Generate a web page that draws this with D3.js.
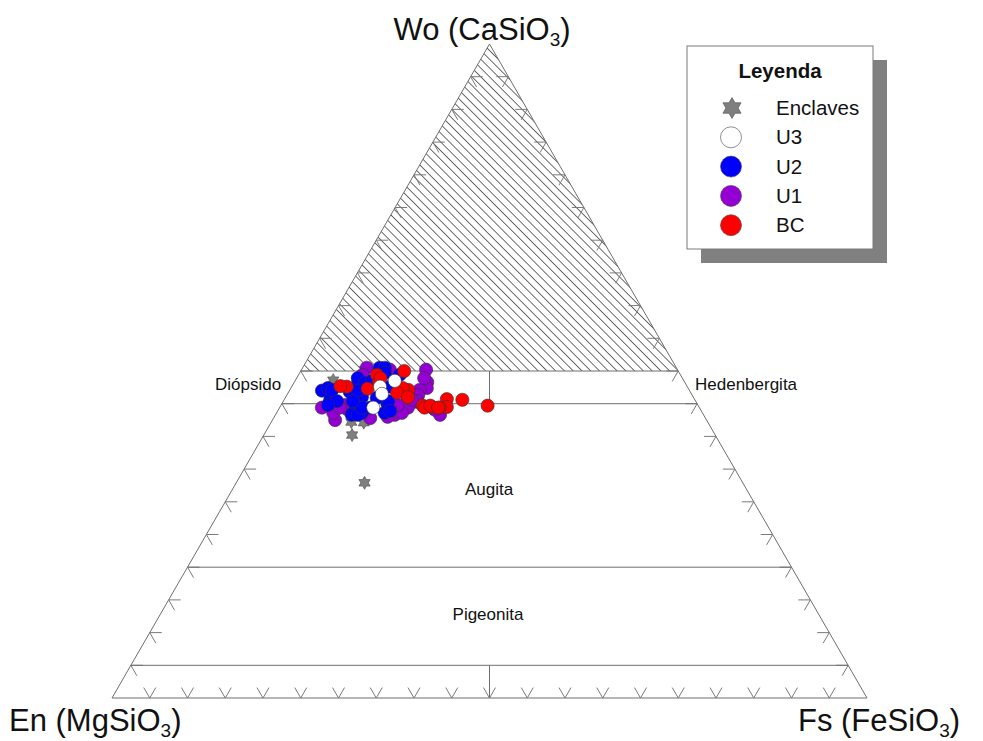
<!DOCTYPE html>
<html><head><meta charset="utf-8">
<script src="https://cdn.jsdelivr.net/npm/d3@7"></script>
<style>body{margin:0;background:#fff} svg{display:block;font-family:Arial,"Liberation Sans",sans-serif}</style>
</head><body><svg id="chart" width="983" height="741"></svg>
<script>
// ---- Data (Wo, En, Fs in mol %) ----
const enclavesWo = [50.2, 48.6, 42.2, 42.1, 40.2, 32.9];
const enclavesEn = [41.4, 46.4, 47.2, 45.6, 48.1, 50.1];
const enclavesFs = [8.4, 5.0, 10.6, 12.3, 11.7, 17.0];

const u1Wo = [50.2, 48.3, 47.4, 47.1, 45.9, 44.4, 43.3, 43.0, 42.5, 43.6, 43.3, 45.3, 50.5, 50.2, 49.4, 46.3, 45.4, 44.4, 43.6, 44.8, 45.6, 44.1, 44.8, 44.1, 44.4, 44.4, 42.8, 48.9];
const u1En = [33.3, 34.1, 34.6, 35.7, 37.6, 39.3, 40.9, 42.0, 49.2, 48.9, 34.9, 37.2, 41.0, 38.1, 42.1, 36.3, 36.9, 38.6, 39.8, 39.7, 37.5, 35.2, 46.7, 46.7, 47.6, 50.0, 44.4, 34.2];
const u1Fs = [16.5, 17.6, 18.0, 17.2, 16.5, 16.3, 15.8, 15.0, 8.3, 7.5, 21.8, 17.5, 8.5, 11.7, 8.5, 17.4, 17.7, 17.0, 16.6, 15.5, 16.9, 20.7, 8.5, 9.2, 8.0, 5.6, 12.8, 16.9];

const u2Wo = [50.5, 50.5, 49.7, 47.0, 47.4, 45.6, 47.1, 45.4, 44.8, 43.6, 43.6, 44.4, 43.6, 45.1, 48.2, 46.0, 46.8, 49.4, 47.6, 48.9, 48.2, 48.5, 47.0, 43.3, 43.3, 44.4, 45.4, 45.4, 43.9, 45.9];
const u2En = [39.3, 38.6, 39.0, 48.7, 47.7, 48.3, 47.3, 47.5, 49.0, 46.3, 45.1, 43.6, 42.1, 41.0, 43.3, 43.9, 45.1, 37.2, 39.4, 43.0, 42.4, 41.3, 43.9, 46.6, 45.8, 44.7, 45.4, 40.7, 41.2, 42.0];
const u2Fs = [10.2, 10.9, 11.3, 4.3, 4.9, 6.1, 5.6, 7.1, 6.2, 10.1, 11.3, 12.0, 14.3, 13.9, 8.5, 10.1, 8.1, 13.4, 13.0, 8.1, 9.4, 10.2, 9.1, 10.1, 10.9, 10.9, 9.2, 13.9, 14.9, 12.1];

const bcWo = [44.7, 45.6, 45.7, 44.5, 44.4, 44.5, 44.7, 44.4, 44.7, 50.0, 49.4, 48.3, 47.3, 47.6, 47.7, 47.0, 46.3, 47.1, 47.4, 46.7, 48.9, 46.0, 44.4];
const bcEn = [27.9, 30.8, 32.8, 33.4, 34.4, 35.4, 36.5, 36.4, 35.5, 36.3, 40.2, 40.5, 42.5, 45.1, 45.9, 38.5, 37.8, 37.2, 37.8, 38.9, 40.0, 37.8, 34.6];
const bcFs = [27.4, 23.6, 21.5, 22.1, 21.2, 20.1, 18.8, 19.2, 19.8, 13.7, 10.4, 11.2, 10.2, 7.3, 6.4, 14.5, 15.9, 15.7, 14.8, 14.4, 11.1, 16.2, 21.0];

const u3Wo = [48.5, 47.6, 46.5, 44.4];
const u3En = [38.3, 40.7, 41.0, 43.2];
const u3Fs = [13.2, 11.7, 12.5, 12.4];

const legendNames = ["Enclaves", "U3", "U2", "U1", "BC"];
const fieldNames = ["Diópsido", "Hedenbergita", "Augita", "Pigeonita"];
const woLevels = [50, 45, 20, 5];
const tickValues = d3.range(5, 100, 5);

// ---- Geometry ----
const svg = d3.select("#chart");
const xS = d3.scaleLinear().domain([0, 100]).range([112, 867]); // Fs + Wo/2
const yS = d3.scaleLinear().domain([0, 100]).range([698, 44]);  // Wo
const P = (wo, en, fs) => { const t = wo + en + fs; wo = wo*100/t; fs = fs*100/t; return [xS(fs + wo/2), yS(wo)]; };

const lineCol = "#6e6e6e";
const defs = svg.append("defs");
const pat = defs.append("pattern").attr("id", "hatch").attr("patternUnits", "userSpaceOnUse")
  .attr("width", 6.2).attr("height", 6.2).attr("patternTransform", "rotate(-45)");
pat.append("line").attr("x1", 0).attr("y1", 0).attr("x2", 0).attr("y2", 6.2)
  .attr("stroke", "#4a4a4a").attr("stroke-width", 1.6);

// hatched region Wo > 50
const hatchPts = [P(100,0,0), P(50,50,0), P(50,0,50)];
svg.append("path").attr("d", "M" + hatchPts.join("L") + "Z").attr("fill", "url(#hatch)");

// triangle
const tri = [P(100,0,0), P(0,100,0), P(0,0,100)];
svg.append("path").attr("d", "M" + tri.join("L") + "Z").attr("fill", "none").attr("stroke", lineCol).attr("stroke-width", 1);

// ticks
const L = 12, c60 = 0.5, s60 = Math.sqrt(3)/2;
const tg = svg.append("g").attr("stroke", "#7a7a7a").attr("stroke-width", 1).attr("fill", "none");
tickValues.forEach(v => {
  let [x, y] = P(v, 100 - v, 0);
  tg.append("path").attr("d", `M${x+L},${y}L${x},${y}L${x+L*c60},${y+L*s60}`);
  [x, y] = P(0, 100 - v, v);
  tg.append("path").attr("d", `M${x-L*c60},${y-L*s60}L${x},${y}L${x+L*c60},${y-L*s60}`);
  [x, y] = P(v, 0, 100 - v);
  tg.append("path").attr("d", `M${x-L},${y}L${x},${y}L${x-L*c60},${y+L*s60}`);
});

// field boundaries
const bg = svg.append("g").attr("stroke", lineCol).attr("stroke-width", 1);
woLevels.forEach(w => {
  const a = P(w, 100 - w, 0), b = P(w, 0, 100 - w);
  bg.append("line").attr("x1", a[0]).attr("y1", a[1]).attr("x2", b[0]).attr("y2", b[1]);
});
[[45, 50], [0, 5]].forEach(([w1, w2]) => {
  const a = P(w1, (100 - w1)/2, (100 - w1)/2), b = P(w2, (100 - w2)/2, (100 - w2)/2);
  bg.append("line").attr("x1", a[0]).attr("y1", a[1]).attr("x2", b[0]).attr("y2", b[1]);
});

// field labels
const labPos = [[215, 390, "start"], [695, 390, "start"], [489, 495, "middle"], [488, 620, "middle"]];
fieldNames.forEach((n, i) => {
  svg.append("text").attr("x", labPos[i][0]).attr("y", labPos[i][1]).attr("text-anchor", labPos[i][2])
    .attr("font-size", 17).attr("fill", "#111").text(n);
});

// apex labels
function apex(x, y, main, anchor) {
  const t = svg.append("text").attr("x", x).attr("y", y).attr("text-anchor", anchor).attr("font-size", 31).attr("fill", "#111");
  t.append("tspan").text(main);
  t.append("tspan").attr("font-size", 19).attr("dy", 6).text("3");
  t.append("tspan").attr("dy", -6).text(")");
}
apex(482, 40, "Wo (CaSiO", "middle");
apex(9, 731, "En (MgSiO", "start");
apex(798, 731, "Fs (FeSiO", "start");

// star symbol
function starPath(R) {
  const r = R * 0.58, pts = [];
  for (let k = 0; k < 12; k++) {
    const a = -Math.PI/2 + k * Math.PI/6, rr = k % 2 ? r : R;
    pts.push([rr*Math.cos(a), rr*Math.sin(a)]);
  }
  return "M" + pts.map(p => p.map(v => v.toFixed(2)).join(",")).join("L") + "Z";
}

// data
const pts = (wo, en, fs) => wo.map((w, i) => P(w, en[i], fs[i]));
svg.append("g").selectAll("path").data(pts(enclavesWo, enclavesEn, enclavesFs)).join("path")
  .attr("d", starPath(6.5)).attr("transform", d => `translate(${d[0]},${d[1]})`)
  .attr("fill", "#7f7f7f").attr("stroke", "#4a4a4a").attr("stroke-width", 0.6);

const circleSeries = [
  [u1Wo, u1En, u1Fs, "#9400d3"],
  [u2Wo, u2En, u2Fs, "#0000ff"],
  [bcWo, bcEn, bcFs, "#ff0000"],
  [u3Wo, u3En, u3Fs, "#ffffff"]
];
circleSeries.forEach(([wo, en, fs, col]) => {
  svg.append("g").selectAll("circle").data(pts(wo, en, fs)).join("circle")
    .attr("cx", d => d[0]).attr("cy", d => d[1]).attr("r", 6.6)
    .attr("fill", col).attr("stroke", "#333").attr("stroke-width", 0.6);
});

// legend
const lg = svg.append("g");
lg.append("rect").attr("x", 701).attr("y", 60).attr("width", 186).attr("height", 203).attr("fill", "#808080");
lg.append("rect").attr("x", 687).attr("y", 46).attr("width", 186).attr("height", 203).attr("fill", "#fff").attr("stroke", "#7a7a7a");
lg.append("text").attr("x", 780).attr("y", 78).attr("text-anchor", "middle").attr("font-size", 20.5).attr("font-weight", "bold").attr("fill", "#111").text("Leyenda");
const legCols = ["#7f7f7f", "#ffffff", "#0000ff", "#9400d3", "#ff0000"];
legendNames.forEach((n, i) => {
  const y = 108 + i * 29.3;
  if (i === 0) {
    lg.append("path").attr("d", starPath(10.5)).attr("transform", `translate(732,${y})`).attr("fill", legCols[i]).attr("stroke", "#4a4a4a").attr("stroke-width", 0.6);
  } else {
    lg.append("circle").attr("cx", 731).attr("cy", y).attr("r", 10.5).attr("fill", legCols[i]).attr("stroke", "#444").attr("stroke-width", 0.6);
  }
  lg.append("text").attr("x", 776).attr("y", y + 7).attr("font-size", 20.5).attr("fill", "#111").text(n);
});
</script></body></html>
